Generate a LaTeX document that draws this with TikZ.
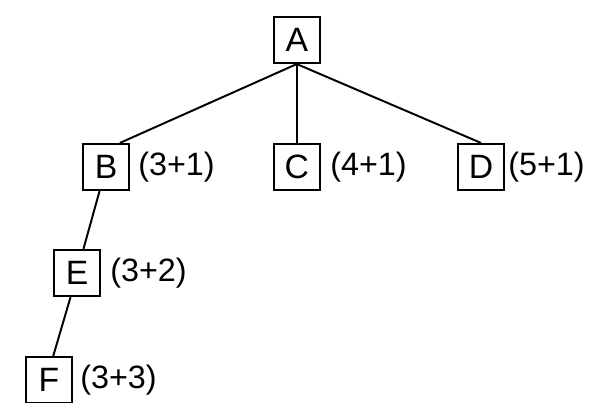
\documentclass[tikz,border=0pt]{standalone}
\usepackage{fontspec}
\setmainfont{Liberation Sans}
\usepackage{tikz}

\tikzset{
  box/.style={draw, line width=1.5pt, minimum size=1.15cm, inner sep=0pt,
    font=\fontsize{24}{28}\selectfont},
  cost/.style={anchor=west, inner sep=0pt, font=\fontsize{23}{28}\selectfont},
  edge/.style={line width=1.4pt}
}

\begin{document}
\begin{tikzpicture}
            \useasboundingbox (0,0) rectangle (15.225,10.05);

            %% racine
            \node [box] (A) at (7.42,9.05) {A};

            %% premier niveau
            \node [box] (B) at (2.65,5.875) {B};
            \node [box] (C) at (7.42,5.875) {C};
            \node [box] (D) at (12.025,5.875) {D};

            %% sous B
            \node [box] (E) at (1.925,3.225) {E};
            \node [box] (F) at (1.225,0.55) {F};

            %% couts
            \node [cost] (cB) at (3.45,5.875) {(3+1)};
            \node [cost] (cC) at (8.25,5.875) {(4+1)};
            \node [cost] (cD) at (12.70,5.875) {(5+1)};
            \node [cost] (cE) at (2.75,3.225) {(3+2)};
            \node [cost] (cF) at (2.00,0.55) {(3+3)};

            %% aretes
            \draw [edge] (A.south) -- (B.60);
            \draw [edge] (A.south) -- (C.north);
            \draw [edge] (A.south) -- (D.north);
            \draw [edge] (B.255) -- (E.75);
            \draw [edge] (E.255) -- (F.80);
        \end{tikzpicture}
\end{document}
